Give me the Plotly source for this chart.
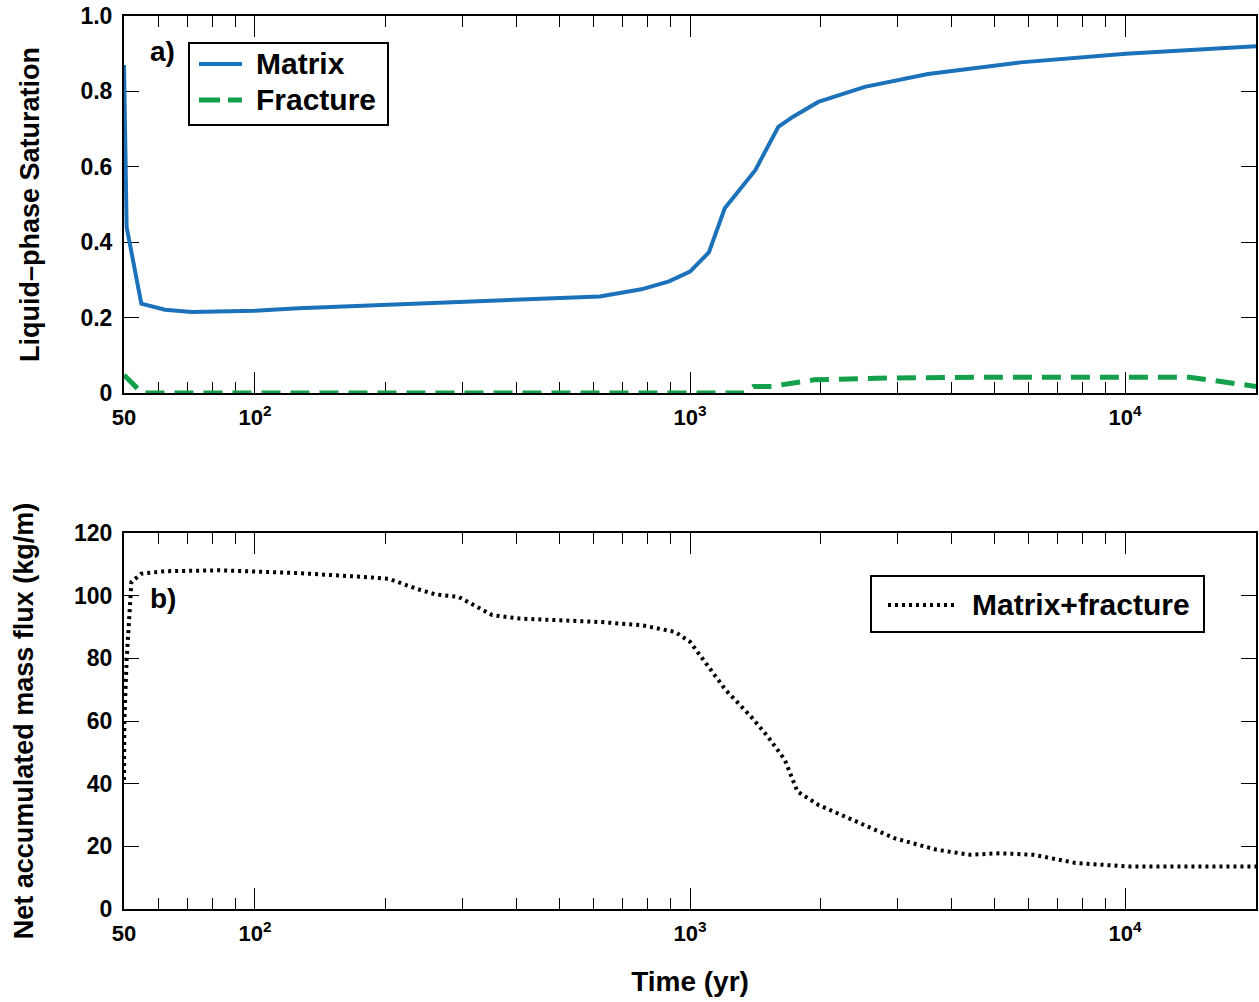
import numpy as np
import plotly.graph_objects as go

# ---------------- data ----------------
x_matrix = [50, 50.7, 54.8, 62.1, 71.6, 88.4, 100, 126, 200, 405, 620, 773, 895, 1000,
            1105, 1202, 1413, 1596, 1726, 1972, 2523, 3525, 5754, 10040, 20000]
y_matrix = [0.87, 0.44, 0.237, 0.221, 0.215, 0.216, 0.218, 0.225, 0.234, 0.247, 0.256,
            0.275, 0.296, 0.322, 0.373, 0.49, 0.591, 0.706, 0.733, 0.772, 0.812, 0.846,
            0.877, 0.900, 0.920]

x_frac = [50, 53.5, 55, 1330, 1400, 1540, 1930, 2944, 4603, 14060, 20000]
y_frac = [0.048, 0.017, 0.0, 0.0, 0.0175, 0.0175, 0.035, 0.040, 0.042, 0.042, 0.0175]

x_flux = [50, 50.1, 50.7, 51.7, 52.0, 54.8, 62.1, 82.5, 98, 126, 186, 203, 234, 260, 294,
          351, 405, 620, 773, 925, 1000, 1105, 1208, 1381, 1510, 1652, 1766, 1974, 2359,
          2949, 3689, 4409, 5150, 6155, 7690, 10040, 20000]
y_flux = [41.2, 60.3, 79.4, 99.6, 104.4, 107.0, 107.8, 108.1, 107.8, 107.2, 105.8, 105.4,
          102.3, 100.4, 99.6, 93.8, 92.7, 91.6, 90.6, 88.4, 85.3, 77.3, 69.9, 61.4, 55.0,
          47.6, 37.5, 33.2, 28.4, 22.6, 18.9, 17.3, 17.8, 17.3, 14.7, 13.6, 13.6]

series_names = ["Matrix", "Fracture", "Matrix+fracture"]

x_major_vals = [50, 100, 1000, 10000]
x_major_text = ["50", "10<sup>2</sup>", "10<sup>3</sup>", "10<sup>4</sup>"]
x_minor_vals = [60, 70, 80, 90, 200, 300, 400, 500, 600, 700, 800, 900,
                2000, 3000, 4000, 5000, 6000, 7000, 8000, 9000]
y1_vals = [0, 0.2, 0.4, 0.6, 0.8, 1.0]
y1_text = ["0", "0.2", "0.4", "0.6", "0.8", "1.0"]
y2_vals = [0, 20, 40, 60, 80, 100, 120]
y2_text = ["0", "20", "40", "60", "80", "100", "120"]

# ---------------- styles ----------------
FONT = "Liberation Sans, Arial, sans-serif"
BLUE = "#1b72ba"
GREEN = "#14a04b"
MATRIX_LINE = dict(color=BLUE, width=4)
FRAC_LINE = dict(color=GREEN, width=5, dash="19px,10px")
FLUX_LINE = dict(color="black", width=4, dash="3px,4px")

W, H = 1259, 1002
ml, mr, mt, mb = 124, 3, 16, 93
pw = W - ml - mr
ph = H - mt - mb
top_dom = [(909 - 393) / ph, 1.0]
bot_dom = [0.0, (909 - 533) / ph]


def px(xp):
    return (xp - ml) / pw


def py(yp):
    return (H - mb - yp) / ph


fig = go.Figure()
fig.add_trace(go.Scatter(x=x_matrix, y=y_matrix, mode="lines", name=series_names[0],
                         line=MATRIX_LINE, xaxis="x", yaxis="y", showlegend=False))
fig.add_trace(go.Scatter(x=x_frac, y=y_frac, mode="lines", name=series_names[1],
                         line=FRAC_LINE, xaxis="x", yaxis="y", showlegend=False))
fig.add_trace(go.Scatter(x=x_flux, y=y_flux, mode="lines", name=series_names[2],
                         line=FLUX_LINE, xaxis="x2", yaxis="y2", showlegend=False))

xrange_log = [np.log10(50), np.log10(20000)]


def xaxis_common(anchor, title=None):
    d = dict(type="log", range=xrange_log, anchor=anchor,
             tickmode="array", tickvals=x_major_vals, ticktext=x_major_text,
             ticks="inside", ticklen=21, tickwidth=1.2, tickcolor="black",
             minor=dict(tickmode="array", tickvals=x_minor_vals, ticks="inside",
                        ticklen=11, tickwidth=1.2, tickcolor="black", showgrid=False),
             showline=True, linecolor="black", linewidth=2, mirror="ticks",
             showgrid=False, zeroline=False, layer="below traces",
             tickfont=dict(family=FONT, size=22, color="black", weight="bold"),
             ticklabelstandoff=4)
    if title:
        d["title"] = dict(text=title, font=dict(family=FONT, size=28, color="black",
                                                 weight="bold"), standoff=26)
    return d


def yaxis_common(anchor, dom, rng, vals, text, title):
    return dict(domain=dom, range=rng, anchor=anchor, tickmode="array",
                tickvals=vals, ticktext=text, ticks="inside", ticklen=15,
                tickwidth=1.2, tickcolor="black",
                showline=True, linecolor="black", linewidth=2, mirror="ticks",
                showgrid=False, zeroline=False, layer="below traces",
                tickfont=dict(family=FONT, size=23, color="black", weight="bold"),
                ticklabelstandoff=5,
                title=dict(text=title, font=dict(family=FONT, size=27, color="black",
                                                  weight="bold"), standoff=33))


lab_font = dict(family=FONT, size=30, color="black", weight="bold")

shapes = [
    # legend a) box
    dict(type="rect", xref="paper", yref="paper", x0=px(189), x1=px(388),
         y0=py(125), y1=py(43), line=dict(color="black", width=2), fillcolor="white",
         layer="above"),
    dict(type="line", xref="paper", yref="paper", x0=px(199), x1=px(242),
         y0=py(64), y1=py(64), line=MATRIX_LINE, layer="above"),
    dict(type="line", xref="paper", yref="paper", x0=px(199), x1=px(242),
         y0=py(100), y1=py(100), line=dict(color=GREEN, width=5, dash="21px,8px"),
         layer="above"),
    # legend b) box
    dict(type="rect", xref="paper", yref="paper", x0=px(871), x1=px(1204),
         y0=py(632), y1=py(576), line=dict(color="black", width=2), fillcolor="white",
         layer="above"),
    dict(type="line", xref="paper", yref="paper", x0=px(888), x1=px(954),
         y0=py(605), y1=py(605), line=dict(color="black", width=4, dash="3px,4px"),
         layer="above"),
]

annotations = [
    dict(text="a)", xref="paper", yref="paper", x=px(148), y=py(51),
         xanchor="left", yanchor="middle", showarrow=False,
         font=dict(family=FONT, size=28, color="black", weight="bold")),
    dict(text="b)", xref="paper", yref="paper", x=px(148), y=py(598),
         xanchor="left", yanchor="middle", showarrow=False,
         font=dict(family=FONT, size=28, color="black", weight="bold")),
    dict(text=series_names[0], xref="paper", yref="paper", x=px(254), y=py(64),
         xanchor="left", yanchor="middle", showarrow=False, font=lab_font),
    dict(text=series_names[1], xref="paper", yref="paper", x=px(254), y=py(100),
         xanchor="left", yanchor="middle", showarrow=False, font=lab_font),
    dict(text=series_names[2], xref="paper", yref="paper", x=px(970), y=py(604),
         xanchor="left", yanchor="middle", showarrow=False, font=lab_font),
]

fig.update_layout(
    width=W, height=H,
    margin=dict(l=ml, r=mr, t=mt, b=mb, autoexpand=False),
    paper_bgcolor="white", plot_bgcolor="white",
    showlegend=False,
    xaxis=xaxis_common("y"),
    yaxis=yaxis_common("x", top_dom, [0, 1.0], y1_vals, y1_text,
                       "Liquid–phase Saturation"),
    xaxis2=xaxis_common("y2", "Time (yr)"),
    yaxis2=yaxis_common("x2", bot_dom, [0, 120], y2_vals, y2_text,
                        "Net accumulated mass flux (kg/m)"),
    shapes=shapes,
    annotations=annotations,
)

fig.write_html("out.html",
               config={"displayModeBar": False},
               post_script="document.body.style.margin='0';document.body.style.overflow='hidden';")
